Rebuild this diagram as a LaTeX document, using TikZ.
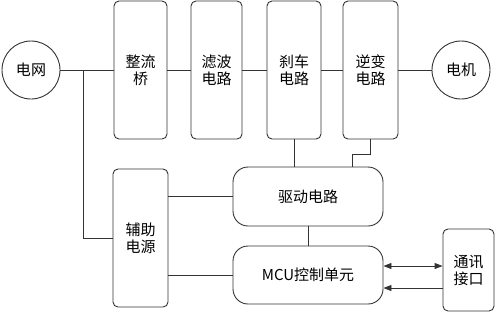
\documentclass[tikz,border=0pt]{standalone}
\usepackage{fontspec}
\setmainfont{Noto Sans CJK SC}
\usepackage{xcolor}
\usetikzlibrary{arrows.meta,positioning,calc}
\definecolor{lgray}{HTML}{333333}
\tikzset{
  blk/.style={draw=lgray, line width=0.9pt, rounded corners=5pt, inner sep=0pt, align=center,
    font=\fontsize{15}{17}\selectfont},
  wide/.style={blk, rounded corners=15pt, minimum width=150pt, minimum height=58pt},
  src/.style={draw=lgray, line width=0.9pt, circle, minimum size=58pt, inner sep=0pt,
    font=\fontsize{15}{17}\selectfont},
  wire/.style={draw=lgray, line width=0.9pt},
}

\begin{document}
\begin{tikzpicture}[x=1pt, y=-1pt, >={Triangle[length=8pt,width=6pt]}]
\useasboundingbox (0,0) rectangle (497,314);
% top power chain
\node[src] (grid) at (31,70) {电网};
\node[blk, minimum width=53pt, minimum height=138pt] (rect) at (140.5,70) {整流\\桥};
\node[blk, minimum width=51pt, minimum height=138pt] (filt) at (216.5,70) {滤波\\电路};
\node[blk, minimum width=54pt, minimum height=138pt] (brake) at (294,70) {刹车\\电路};
\node[blk, minimum width=55pt, minimum height=138pt] (inv) at (370.5,70) {逆变\\电路};
\node[src] (motor) at (461,70) {电机};
% control part
\node[wide, minimum height=59pt] (drv) at (308,196.5) {驱动电路};
\node[wide] (mcu) at (308,275) {MCU控制单元};
\node[blk, minimum width=55pt, minimum height=138pt] (aux) at (140.5,238) {辅助\\电源};
\node[blk, minimum width=51pt, minimum height=82pt] (comm) at (468.5,270) {通讯\\接口};
\coordinate (tap) at (83,70);
\coordinate (bend) at (352,154);

\draw[wire] (grid) -- (rect) -- (filt) -- (brake) -- (inv) -- (motor);
\draw[wire] (tap) |- (aux.west);
\draw[wire] (brake.south) -- (brake.south |- drv.north);
\draw[wire] (inv.south) |- (bend) -- (bend |- drv.north);
\draw[wire] (drv.west) -- (drv.west -| aux.east);
\draw[wire] (mcu.west) -- (mcu.west -| aux.east);
\draw[wire] (drv.south) -- (mcu.north);
\draw[wire, <->] ([yshift=9pt]mcu.east) -- ([yshift=9pt]mcu.east -| comm.west);
\draw[wire, ->] ([yshift=-13pt]mcu.east -| comm.west) -- ([yshift=-13pt]mcu.east);
\end{tikzpicture}
\end{document}
